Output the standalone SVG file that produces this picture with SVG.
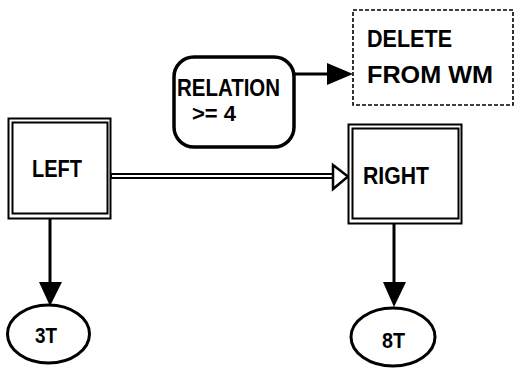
<svg xmlns="http://www.w3.org/2000/svg" width="516" height="368" viewBox="0 0 516 368">
  <style>
    .lbl { font-family: "Liberation Sans", Arial, sans-serif; font-weight: bold; font-size: 23px; fill: #000; }
    .sm { font-size: 22px; }
    .box { fill: #fff; stroke: #000; stroke-width: 2; }
    .edge { stroke: #000; stroke-width: 3; fill: none; }
    .head { fill: #000; stroke: none; }
  </style>
  <rect width="516" height="368" fill="#fff"/>

  <!-- connectors -->
  <g id="connectors">
    <!-- LEFT to RIGHT: double-line with hollow head -->
    <line x1="111" y1="176" x2="335" y2="176" stroke="#000" stroke-width="6"/>
    <line x1="112" y1="176" x2="336" y2="176" stroke="#fff" stroke-width="2"/>
    <polygon points="333,165 348,176.5 333,189" fill="#fff" stroke="#000" stroke-width="2.5" stroke-linejoin="miter"/>

    <!-- RELATION to DELETE -->
    <line class="edge" x1="294" y1="74" x2="330" y2="74"/>
    <polygon class="head" points="327,63 353,74 327,85"/>

    <!-- LEFT to 3T -->
    <line class="edge" x1="50" y1="219" x2="50" y2="284"/>
    <polygon class="head" points="39,282 62,282 50,306"/>

    <!-- RIGHT to 8T -->
    <line class="edge" x1="394" y1="224" x2="394" y2="284"/>
    <polygon class="head" points="383,282 406,282 394,307"/>
  </g>

  <g id="left">
    <rect class="box" x="8.5" y="118.5" width="102" height="100"/>
    <rect class="box" x="12.5" y="122.5" width="95" height="91"/>
    <text class="lbl" x="32" y="177" textLength="50" lengthAdjust="spacingAndGlyphs">LEFT</text>
  </g>

  <g id="right">
    <rect class="box" x="348.5" y="124.5" width="113" height="99"/>
    <rect class="box" x="352.5" y="128.5" width="106" height="90"/>
    <text class="lbl" x="363" y="184" textLength="66" lengthAdjust="spacingAndGlyphs">RIGHT</text>
  </g>

  <g id="relation">
    <rect x="174" y="57" width="120" height="90" rx="20" ry="20" fill="#fff" stroke="#000" stroke-width="3.5"/>
    <text class="lbl" x="177" y="96" textLength="103" lengthAdjust="spacingAndGlyphs">RELATION</text>
    <text class="lbl sm" x="192" y="121" textLength="44" lengthAdjust="spacingAndGlyphs">&gt;= 4</text>
  </g>

  <g id="delete">
    <rect x="353" y="10" width="160" height="95" fill="#fff" stroke="#000" stroke-width="1.6" stroke-dasharray="4 2"/>
    <text class="lbl" x="367" y="47" textLength="85" lengthAdjust="spacingAndGlyphs">DELETE</text>
    <text class="lbl" x="367" y="83" textLength="126" lengthAdjust="spacingAndGlyphs">FROM WM</text>
  </g>

  <g id="t3">
    <ellipse cx="48.5" cy="334" rx="41" ry="29" fill="#fff" stroke="#000" stroke-width="3"/>
    <text class="lbl sm" x="35" y="343" textLength="22" lengthAdjust="spacingAndGlyphs">3T</text>
  </g>

  <g id="t8">
    <ellipse cx="393" cy="337" rx="42" ry="29" fill="#fff" stroke="#000" stroke-width="3"/>
    <text class="lbl sm" x="382" y="348" textLength="23" lengthAdjust="spacingAndGlyphs">8T</text>
  </g>
</svg>
